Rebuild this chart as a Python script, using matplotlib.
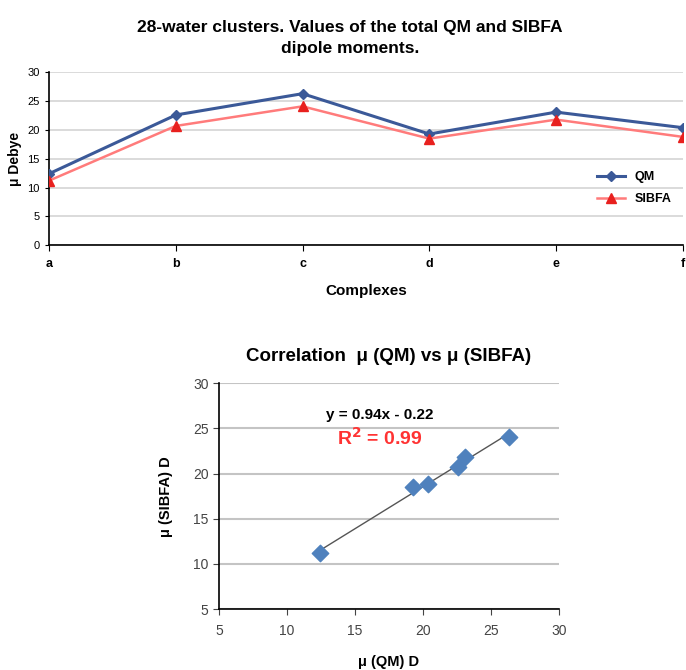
import numpy as np
import matplotlib
matplotlib.use("Agg")
import matplotlib.pyplot as plt

plt.rcParams["font.family"] = ["Liberation Sans", "DejaVu Sans"]

# dipole moments (Debye) for the six 28-water complexes
complexes = ["a", "b", "c", "d", "e", "f"]
qm_vals = [12.4, 22.6, 26.3, 19.3, 23.1, 20.4]
sibfa_vals = [11.2, 20.7, 24.1, 18.5, 21.8, 18.8]

C_QM = "#3B5998"
C_SIBFA = "#FF7B7B"
C_SIBFA_MK = "#E8201E"
C_SCAT = "#4F81BD"
GRID = "#D4D4D4"

fig = plt.figure(figsize=(6.86, 6.70), dpi=100)

# ---- top: line chart ----
ax1 = fig.add_axes([0.0714, 0.634, 0.924, 0.258])
x = np.arange(len(complexes))
ax1.plot(x, qm_vals, color=C_QM, lw=2.2, marker="D", ms=5, label="QM", zorder=3)
ax1.plot(x, sibfa_vals, color=C_SIBFA, lw=1.8, marker="^", ms=7,
         mfc=C_SIBFA_MK, mec=C_SIBFA_MK, label="SIBFA", zorder=3)
ax1.set_xlim(0, len(complexes) - 1)
ax1.set_ylim(0, 30)
ax1.set_yticks(np.arange(0, 31, 5))
ax1.set_xticks(x)
ax1.set_xticklabels(complexes, fontweight="bold", fontsize=9)
ax1.tick_params(axis="y", labelsize=8, length=3)
ax1.tick_params(axis="x", length=4, pad=5)
ax1.grid(axis="y", color=GRID, lw=1.2)
ax1.set_axisbelow(True)
for s in ["top", "right"]:
    ax1.spines[s].set_visible(False)
ax1.spines["left"].set_linewidth(1.2)
ax1.spines["bottom"].set_linewidth(1.2)
ax1.set_xlabel("Complexes", fontweight="bold", fontsize=11, labelpad=10)
ax1.set_ylabel("μ Debye", fontweight="bold", fontsize=10, labelpad=4)
ax1.legend(loc="center right", bbox_to_anchor=(1.0, 0.33), frameon=False,
           prop={"weight": "bold", "size": 9}, handlelength=2.2, labelspacing=0.8)
fig.text(0.51, 0.943, "28-water clusters. Values of the total QM and SIBFA\ndipole moments.",
         ha="center", va="center", fontsize=12.5, fontweight="bold", linespacing=1.45)

# ---- bottom: correlation scatter ----
ax2 = fig.add_axes([0.319, 0.091, 0.496, 0.337])
ax2.scatter(qm_vals, sibfa_vals, marker="D", s=70, color=C_SCAT, zorder=3)
slope, icpt = np.polyfit(qm_vals, sibfa_vals, 1)
xf = np.array([min(qm_vals), max(qm_vals)])
ax2.plot(xf, slope * xf + icpt, color="#555555", lw=1.0, zorder=2)
ax2.set_xlim(5, 30)
ax2.set_ylim(5, 30)
ax2.set_xticks(np.arange(5, 31, 5))
ax2.set_yticks(np.arange(5, 31, 5))
ax2.tick_params(labelsize=10, length=4, colors="#444444")
ax2.tick_params(axis="x", pad=7)
ax2.grid(axis="y", color="#C4C4C4", lw=1.5)
ax2.set_axisbelow(True)
for s in ["top", "right"]:
    ax2.spines[s].set_visible(False)
ax2.spines["left"].set_linewidth(1.2)
ax2.spines["bottom"].set_linewidth(1.2)
ax2.set_xlabel("μ (QM) D", fontweight="bold", fontsize=10.5, labelpad=12)
ax2.set_ylabel("μ (SIBFA) D", fontweight="bold", fontsize=10.5, labelpad=14)
ax2.set_title("Correlation  μ (QM) vs μ (SIBFA)", fontsize=13.5, fontweight="bold", pad=16)
ax2.text(16.8, 26.5, "y = 0.94x - 0.22", ha="center", va="center",
         fontsize=11, fontweight="bold")
ax2.text(16.8, 23.9, "R$^\\mathbf{2}$ = 0.99", ha="center", va="center",
         fontsize=14, fontweight="bold", color="#FF3333")

fig.savefig("out.png", dpi=100)
